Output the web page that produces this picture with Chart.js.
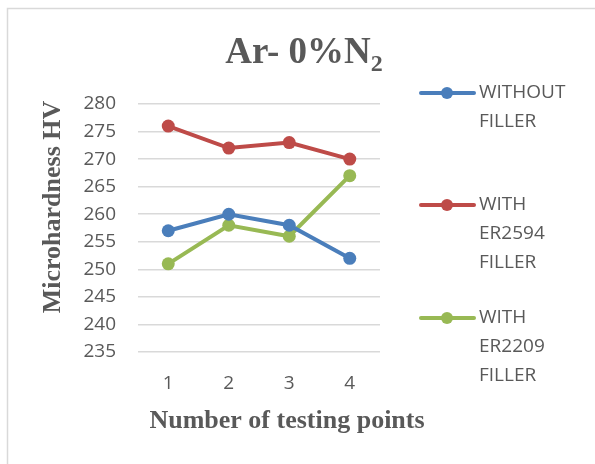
<!DOCTYPE html>
<html>
<head>
<meta charset="utf-8">
<script src="https://cdn.jsdelivr.net/npm/chart.js@4"></script>
<style>
  body { margin: 0; background: #fff; }
  #wrap { width: 595px; height: 464px; }
</style>
</head>
<body>
<div id="wrap"><canvas id="myChart" width="595" height="464"></canvas></div>
<script>
const puntos = ['1', '2', '3', '4'];
const sinFiller = [257, 260, 258, 252];
const conER2594 = [276, 272, 273, 270];
const conER2209 = [251, 258, 256, 267];
const leyendas = [
    ['WITHOUT', 'FILLER'],
    ['WITH', 'ER2594', 'FILLER'],
    ['WITH', 'ER2209', 'FILLER']
];
const gris = '#595959';

// marco, titulos y leyenda dibujados a mano
const extras = {
    id: 'extras',
    beforeDraw(chart) {
        const c = chart.ctx;
        c.save();
        c.strokeStyle = '#d9d9d9';
        c.lineWidth = 1.5;
        c.strokeRect(7.5, 8.5, 600, 470);
        c.restore();
    },
    afterDraw(chart) {
        const c = chart.ctx;
        c.save();
        c.fillStyle = gris;
        c.textBaseline = 'alphabetic';

        // titulo con subindice
        c.font = 'bold 37px "Liberation Serif"';
        const t1 = 'Ar- 0%N';
        const w1 = c.measureText(t1).width;
        c.font = 'bold 24px "Liberation Serif"';
        const w2 = c.measureText('2').width;
        let x0 = 304 - (w1 + w2) / 2;
        c.font = 'bold 37px "Liberation Serif"';
        c.fillText(t1, x0, 63);
        c.font = 'bold 24px "Liberation Serif"';
        c.fillText('2', x0 + w1, 71);

        // titulos de ejes
        c.font = 'bold 26px "Liberation Serif"';
        c.textAlign = 'center';
        c.textBaseline = 'middle';
        c.fillText('Number of testing points', 287, 421);
        c.translate(53, 207);
        c.rotate(-Math.PI / 2);
        c.fillText('Microhardness HV', 0, 0);
        c.restore();

        // leyenda
        c.save();
        const ys = [93, 205, 318];
        chart.data.datasets.forEach((ds, i) => {
            const y = ys[i];
            c.strokeStyle = ds.borderColor;
            c.lineWidth = 4;
            c.lineCap = 'round';
            c.beginPath();
            c.moveTo(421, y);
            c.lineTo(474, y);
            c.stroke();
            c.fillStyle = ds.borderColor;
            c.beginPath();
            c.arc(447, y, 6, 0, Math.PI * 2);
            c.fill();
            c.fillStyle = gris;
            c.font = '19px "Open Sans"';
            c.textAlign = 'left';
            c.textBaseline = 'middle';
            leyendas[i].forEach((linea, j) => {
                c.fillText(linea, 479, y + j * 29);
            });
        });
        c.restore();
    }
};

const ctx = document.querySelector('#myChart');
const myChart = new Chart(ctx, {
    type: 'line',
    data: {
        labels: puntos,
        datasets: [{
            label: 'WITHOUT FILLER',
            data: sinFiller,
            borderColor: '#4a7ebb',
            backgroundColor: '#4a7ebb'
        }, {
            label: 'WITH ER2594 FILLER',
            data: conER2594,
            borderColor: '#be4b48',
            backgroundColor: '#be4b48'
        }, {
            label: 'WITH ER2209 FILLER',
            data: conER2209,
            borderColor: '#98b954',
            backgroundColor: '#98b954'
        }]
    },
    options: {
        responsive: false,
        animation: false,
        devicePixelRatio: 1,
        elements: {
            line: { borderWidth: 4, tension: 0 },
            point: { radius: 6.5, borderWidth: 0, hoverRadius: 6.5 }
        },
        layout: { padding: { top: 104, right: 215, bottom: 0, left: 0 } },
        plugins: {
            legend: { display: false },
            title: { display: false },
            tooltip: { enabled: false }
        },
        scales: {
            x: {
                offset: true,
                grid: { display: false, drawTicks: false },
                border: { display: false },
                ticks: { color: gris, font: { family: 'Open Sans', size: 19 }, padding: 20 },
                afterFit: (s) => { s.height = 464 - 352; }
            },
            y: {
                min: 235,
                max: 280,
                grid: { color: '#d9d9d9', lineWidth: 1.5, drawTicks: false },
                border: { display: false },
                ticks: { stepSize: 5, color: gris, font: { family: 'Open Sans', size: 19 }, padding: 22 },
                afterFit: (s) => { s.width = 138; }
            }
        }
    },
    plugins: [extras]
});
</script>
</body>
</html>
